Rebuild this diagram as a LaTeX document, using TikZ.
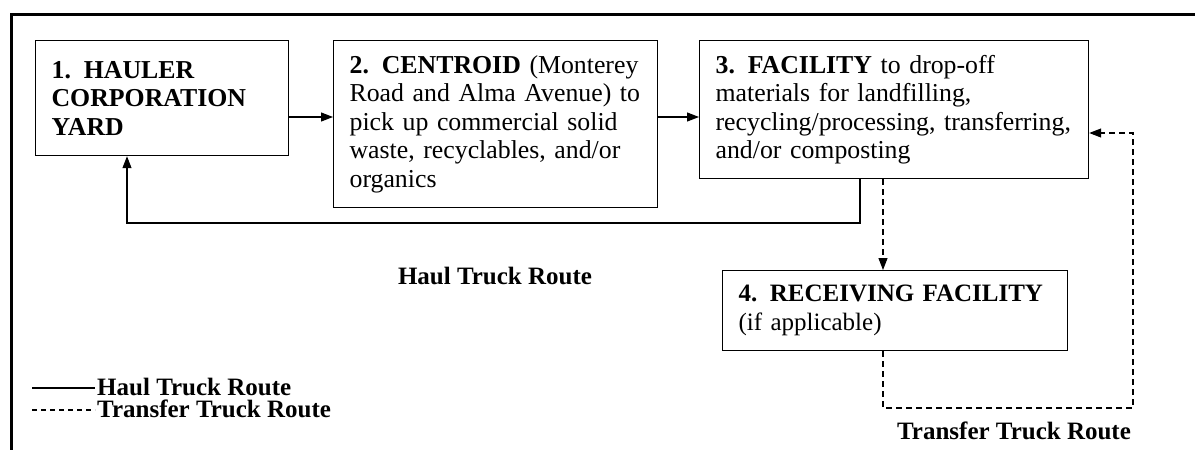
\documentclass[tikz,border=0pt]{standalone}
\usepackage{fontspec}
\setmainfont{Liberation Serif}
\usetikzlibrary{arrows.meta}
\begin{document}
\begin{tikzpicture}[x=1pt,y=-1pt,
  font=\fontsize{25.8}{28.5}\selectfont,
  box/.style={draw,line width=1.2pt,rectangle,align=left,inner xsep=16pt,inner ysep=0pt,anchor=north west},
  arr/.style={line width=1.1pt,-{Triangle[length=12pt,width=9pt]}},
  haul/.style={line width=1.1pt},
  transfer/.style={line width=1.1pt,dash pattern=on 6pt off 4pt},
  lbl/.style={font=\fontsize{25}{28.5}\selectfont\bfseries,inner sep=1pt},
  leg/.style={lbl,anchor=base west,inner sep=0pt}]
\useasboundingbox (0,0) rectangle (1195,450);
% frame
\draw[line width=3pt] (11,450) -- (11,14) -- (1195,14);
% boxes
\node[box,text width=221pt,minimum height=115pt] (b1) at (35,40)
  {\textbf{1.\hspace{0.5em}HAULER}\\\textbf{CORPORATION}\\\textbf{YARD}};
\node[box,text width=292pt,minimum height=167pt] (b2) at (333,40)
  {\textbf{2.\hspace{0.5em}CENTROID} (Monterey\\Road and Alma Avenue) to\\pick up commercial solid\\waste, recyclables, and/or\\organics};
\node[box,text width=357pt,minimum height=138pt] (b3) at (699,40)
  {\textbf{3.\hspace{0.5em}FACILITY} to drop-off\\materials for landfilling,\\recycling/processing, transferring,\\and/or composting};
\node[box,text width=313pt,minimum height=80pt,font=\fontsize{25}{28.5}\selectfont] (b4) at (722,270)
  {\mbox{\textbf{4. RECEIVING FACILITY}}\\(if applicable)};
% connectors
\draw[arr] (b1.east |- 0,117) -- (b2.west |- 0,117);
\draw[arr] (b2.east |- 0,117) -- (b3.west |- 0,117);
\draw[haul,arr] (b3.south -| 860,0) -- (860,223) -- (127,223) -- (b1.south -| 127,0);
\draw[transfer,arr] (b3.south -| 883,0) -- (b4.north -| 883,0);
\coordinate (c1) at (883,408);
\coordinate (c2) at (1133,408);
\coordinate (c3) at (1133,133);
\draw[transfer,arr] (b4.south -| 883,0) -- (c1) -- (c2) -- (c3) -- (b3.east |- c3);
% labels
\node[lbl] (hl) at (495,276) {Haul Truck Route};
\node[lbl] (tl) at (1014,431) {Transfer Truck Route};
% legend
\coordinate (l1a) at (32,388);
\coordinate (l1b) at (95,388);
\coordinate (l2a) at (32,410);
\coordinate (l2b) at (95,410);
\coordinate (t1) at (97,395.5);
\coordinate (t2) at (97,417.5);
\draw[haul] (l1a) -- (l1b);
\draw[transfer,dash pattern=on 5pt off 4pt] (l2a) -- (l2b);
\node[leg] (lg1) at (t1) {Haul Truck Route};
\node[leg] (lg2) at (t2) {Transfer Truck Route};
\end{tikzpicture}
\end{document}
